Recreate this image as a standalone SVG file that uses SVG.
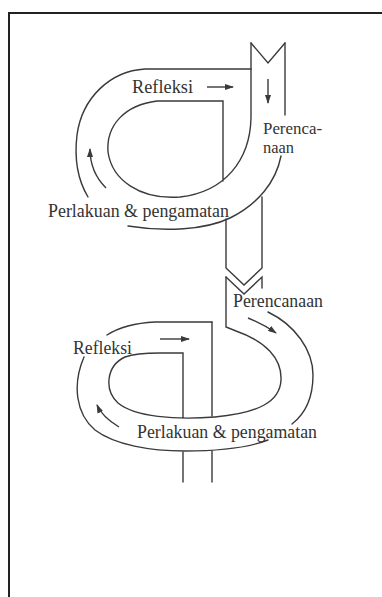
<svg xmlns="http://www.w3.org/2000/svg" width="382" height="597" viewBox="0 0 382 597">
<defs>
<style>
.ln{fill:none;stroke:#3a3a3a;stroke-width:1.4;stroke-linecap:round;stroke-linejoin:miter}
.ar{fill:none;stroke:#3a3a3a;stroke-width:1.4}
.tx{font-family:"Liberation Serif","Times New Roman",serif;font-size:18px;fill:#333}
.sm{font-size:16px}
</style>
<marker id="ah" viewBox="0 0 9 6" refX="8" refY="3" markerWidth="9" markerHeight="6" markerUnits="userSpaceOnUse" orient="auto">
<path d="M0,0 L9,3 L0,6 z" fill="#3a3a3a"/>
</marker>
</defs>
<rect width="382" height="597" fill="#fff"/>
<g id="frame">
<line x1="9" y1="12" x2="9" y2="597" stroke="#222" stroke-width="2"/>
<line x1="8" y1="13" x2="382" y2="13" stroke="#222" stroke-width="2"/>
</g>
<g id="cycle1">
<path class="ln" d="M251,43 L268,63 L285,43"/>
<path class="ln" d="M285,43 V115"/>
<path class="ln" d="M251,69 H145 C110,71 82,98 77,135 C74,160 79,182 88,197"/>
<path class="ln" d="M128,226 C165,232 205,230 230,218 C258,204 276,182 281,156"/>
<path class="ln" d="M251,43 V118 C250,160 225,192 180,197 C140,200 112,180 108,152 C106,125 125,105 157,101 H223 V181"/>
<text class="tx" x="132" y="93" textLength="61" lengthAdjust="spacingAndGlyphs">Refleksi</text>
<text class="tx sm" x="263" y="134" textLength="59" lengthAdjust="spacingAndGlyphs">Perenca-</text>
<text class="tx sm" x="263" y="153" textLength="31" lengthAdjust="spacingAndGlyphs">naan</text>
<text class="tx" x="48" y="217" textLength="181" lengthAdjust="spacingAndGlyphs">Perlakuan &amp; pengamatan</text>
</g>
<g id="link">
<path class="ln" d="M226,219 V268 L244,285 L262,268 V197"/>
<path class="ln" d="M262,288 V277 L244,294 L226,277"/>
</g>
<g id="cycle2">
<path class="ln" d="M212,322 H155 C135,323 118,328 107,335"/>
<path class="ln" d="M268,312 C295,325 313,350 313,375 C313,398 305,414 292,424"/>
<path class="ln" d="M268,440 C250,447 220,451 185,451 C150,451 115,445 95,430 C76,414 72,385 84,357"/>
<path class="ln" d="M226,277 V327 L236,331 C265,341 282,358 281,380 C280,402 258,413 215,417 C175,420 135,417 118,403 C104,390 106,366 125,357 C133,354 145,353 160,353 H183 V417"/>
<path class="ln" d="M212,322 V416"/>
<path class="ln" d="M212,451 V482"/>
<path class="ln" d="M183,452 V482"/>
<text class="tx" x="233" y="307" textLength="90" lengthAdjust="spacingAndGlyphs">Perencanaan</text>
<text class="tx" x="73" y="354" textLength="59" lengthAdjust="spacingAndGlyphs">Refleksi</text>
<text class="tx" x="137" y="438" textLength="180" lengthAdjust="spacingAndGlyphs">Perlakuan &amp; pengamatan</text>
</g>
<g id="connectors">
<path class="ar" d="M207,87 H233" marker-end="url(#ah)"/>
<path class="ar" d="M268,79 V103" marker-end="url(#ah)"/>
<path class="ar" d="M106,188 C96,178 90,165 90,149" marker-end="url(#ah)"/>
<path class="ar" d="M160,339 H189" marker-end="url(#ah)"/>
<path class="ar" d="M119,427 C109,421 101,414 97,405" marker-end="url(#ah)"/>
<path class="ar" d="M248,318 C258,322 266,326 276,333" marker-end="url(#ah)"/>
</g>
</svg>
